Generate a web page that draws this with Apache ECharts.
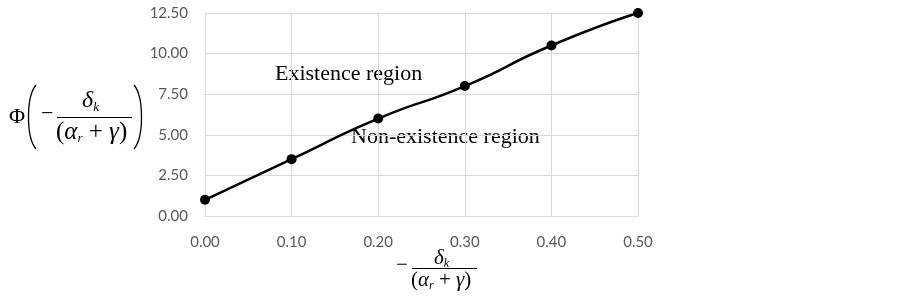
<!DOCTYPE html>
<html lang="en">
<head>
    <meta charset="UTF-8">
    <title>Existence region chart</title>
    <style>
        * { margin: 0; padding: 0; box-sizing: border-box; }
        .chart { width: 903px; height: 304px; background: #fff; }
    </style>
</head>
<body>
<div class="chart" id="chart"></div>

<script src="https://cdn.jsdelivr.net/npm/echarts@6/dist/echarts.min.js"></script>
<script>
    // data
    const xValues = [0.0, 0.1, 0.2, 0.3, 0.4, 0.5]
    const phiValues = [1.0, 3.5, 6.0, 8.0, 10.5, 12.5]
    const regionLabels = ['Existence region', 'Non-existence region']

    const chartEle = document.querySelector('.chart')
    const myChart = echarts.init(chartEle)

    const serif = '"Liberation Serif", "DejaVu Serif", serif'
    const tickFont = 'Lato, "Open Sans", sans-serif'
    const gridColor = '#d9d9d9'

    const option = {
        animation: false,
        grid: { left: 205, right: 265, top: 13, bottom: 88 },
        xAxis: {
            type: 'value',
            min: 0, max: 0.5, interval: 0.1,
            axisLine: { show: true, lineStyle: { color: gridColor } },
            axisTick: { show: false },
            splitLine: { show: true, lineStyle: { color: gridColor, width: 1 } },
            axisLabel: {
                margin: 19, color: '#595959', fontSize: 15, fontFamily: tickFont,
                formatter: v => v.toFixed(2)
            }
        },
        yAxis: {
            type: 'value',
            min: 0, max: 12.5, interval: 2.5,
            axisLine: { show: false },
            axisTick: { show: false },
            splitLine: { show: true, lineStyle: { color: gridColor, width: 1 } },
            axisLabel: {
                margin: 17, color: '#595959', fontSize: 15, fontFamily: tickFont,
                formatter: v => v.toFixed(2)
            }
        },
        series: [{
            type: 'line',
            data: xValues.map((x, i) => [x, phiValues[i]]),
            smooth: 0.6,
            symbol: 'circle',
            symbolSize: 10,
            itemStyle: { color: '#000' },
            lineStyle: { color: '#000', width: 2.5 }
        }],
        graphic: [
            // region annotations
            { type: 'text', left: 275, top: 63, style: { text: regionLabels[0], font: '22px ' + serif, fill: '#000' } },
            { type: 'text', left: 351, top: 126, style: { text: regionLabels[1], font: '22px ' + serif, fill: '#000' } },

            // y axis title: Φ( −δk / (αr + γ) )
            { type: 'text', left: 9, top: 106, style: { text: 'Φ', font: '22px ' + serif, fill: '#000' } },
            { type: 'bezierCurve', shape: { x1: 36, y1: 85, cpx1: 26, cpy1: 97, cpx2: 26, cpy2: 137, x2: 36, y2: 149 }, style: { stroke: '#000', lineWidth: 1.3, fill: null } },
            { type: 'text', left: 41, top: 103, style: { text: '−', font: '22px ' + serif, fill: '#000' } },
            { type: 'text', left: 82, top: 89, style: { rich: { d: { font: 'italic 24px ' + serif }, s: { font: 'italic 13px ' + serif, padding: [13, 0, 0, 0] } }, text: '{d|δ}{s|k}' } },
            { type: 'line', shape: { x1: 57, y1: 117.5, x2: 132, y2: 117.5 }, style: { stroke: '#000', lineWidth: 1 } },
            { type: 'text', left: 56, top: 120, style: { rich: { t: { font: '25px ' + serif }, i: { font: 'italic 25px ' + serif }, s: { font: 'italic 13px ' + serif, padding: [13, 0, 0, 0] } }, text: '{t|(}{i|α}{s|r}{t| + }{i|γ}{t|)}' } },
            { type: 'bezierCurve', shape: { x1: 134, y1: 85, cpx1: 144, cpy1: 97, cpx2: 144, cpy2: 137, x2: 134, y2: 149 }, style: { stroke: '#000', lineWidth: 1.3, fill: null } },

            // x axis title: −δk / (αr + γ)
            { type: 'text', left: 396, top: 255, style: { text: '−', font: '21px ' + serif, fill: '#000' } },
            { type: 'text', left: 434, top: 248, style: { rich: { d: { font: 'italic 21px ' + serif }, s: { font: 'italic 12px ' + serif, padding: [10, 0, 0, 0] } }, text: '{d|δ}{s|k}' } },
            { type: 'line', shape: { x1: 412, y1: 268.5, x2: 477, y2: 268.5 }, style: { stroke: '#000', lineWidth: 1 } },
            { type: 'text', left: 411, top: 270, style: { rich: { t: { font: '21px ' + serif }, i: { font: 'italic 21px ' + serif }, s: { font: 'italic 12px ' + serif, padding: [10, 0, 0, 0] } }, text: '{t|(}{i|α}{s|r}{t| + }{i|γ}{t|)}' } }
        ]
    }

    myChart.setOption(option)
</script>
</body>
</html>
